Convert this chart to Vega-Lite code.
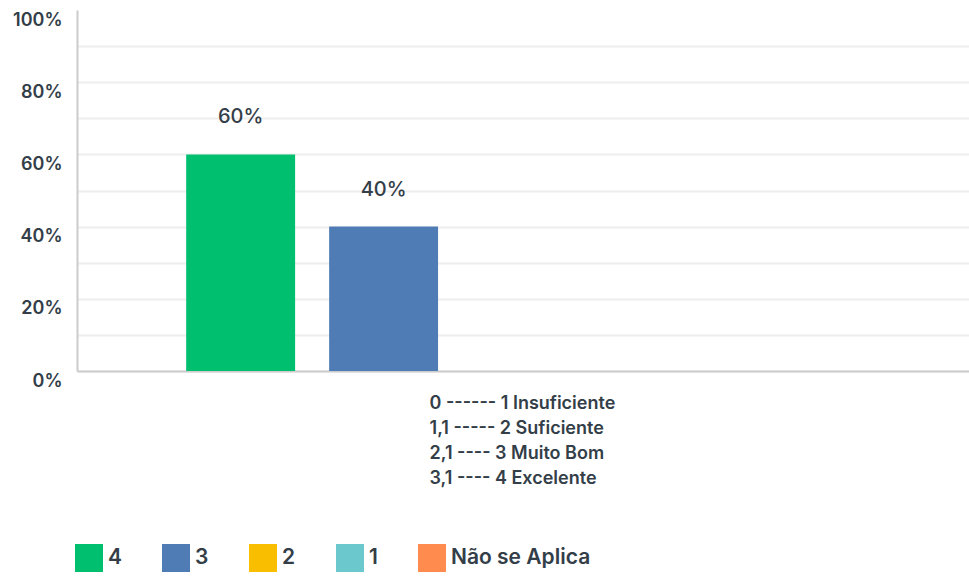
{
  "$schema": "https://vega.github.io/schema/vega-lite/v6.json",
  "autosize": "none",
  "width": 892,
  "height": 361,
  "padding": {"left": 77, "top": 10, "right": 0, "bottom": 206},
  "background": "white",
  "config": {"view": {"stroke": null}, "font": "Inter"},
  "data": {"values": [
    {"group": "0 ------ 1 Insuficiente|1,1 ----- 2 Suficiente|2,1 ---- 3 Muito Bom|3,1 ---- 4 Excelente", "serie": "4", "valor": 0.6},
    {"group": "0 ------ 1 Insuficiente|1,1 ----- 2 Suficiente|2,1 ---- 3 Muito Bom|3,1 ---- 4 Excelente", "serie": "3", "valor": 0.4},
    {"group": "0 ------ 1 Insuficiente|1,1 ----- 2 Suficiente|2,1 ---- 3 Muito Bom|3,1 ---- 4 Excelente", "serie": "2", "valor": 0},
    {"group": "0 ------ 1 Insuficiente|1,1 ----- 2 Suficiente|2,1 ---- 3 Muito Bom|3,1 ---- 4 Excelente", "serie": "1", "valor": 0},
    {"group": "0 ------ 1 Insuficiente|1,1 ----- 2 Suficiente|2,1 ---- 3 Muito Bom|3,1 ---- 4 Excelente", "serie": "Não se Aplica", "valor": 0}
  ]},
  "encoding": {
    "x": {
      "field": "group", "type": "nominal",
      "scale": {"paddingInner": 0, "paddingOuter": 0.124, "align": 0.52},
      "axis": {
        "title": null, "labelAngle": 0, "ticks": false,
        "domainColor": "#cccccc", "domainWidth": 2,
        "labelExpr": "split(datum.value, '|')",
        "labelAlign": "left", "labelOffset": -97, "labelBaseline": "top",
        "labelPadding": 23, "labelLineHeight": 25,
        "labelFontSize": 18, "labelFontWeight": 600, "labelColor": "#333e48",
        "labelLimit": 400
      }
    },
    "xOffset": {
      "field": "serie", "type": "nominal",
      "sort": ["4", "3", "2", "1", "Não se Aplica"],
      "scale": {"paddingInner": 0.238, "paddingOuter": 0.119}
    },
    "y": {
      "field": "valor", "type": "quantitative",
      "scale": {"domain": [0, 1], "nice": false},
      "axis": {
        "title": null, "values": [0, 0.1, 0.2, 0.3, 0.4, 0.5, 0.6, 0.7, 0.8, 0.9, 1],
        "labelExpr": "(round(datum.value * 100) % 20 == 0) ? format(datum.value, '.0%') : ''",
        "ticks": false, "domainColor": "#cccccc", "domainWidth": 2,
        "gridColor": {"condition": {"test": "datum.value == 1", "value": "white"}, "value": "#eeeeee"},
        "gridWidth": 2,
        "labelPadding": 15, "labelOffset": 10,
        "labelFontSize": 18, "labelFontWeight": 600, "labelColor": "#333e48"
      }
    }
  },
  "layer": [
    {
      "mark": {"type": "bar"},
      "encoding": {
        "color": {
          "field": "serie", "type": "nominal",
          "sort": ["4", "3", "2", "1", "Não se Aplica"],
          "scale": {"domain": ["4", "3", "2", "1", "Não se Aplica"], "range": ["#00bf6f", "#507cb6", "#f9be00", "#6bc8cd", "#ff8b4f"]},
          "legend": {
            "title": null, "orient": "none", "direction": "horizontal", "columns": 5,
            "legendX": -2, "legendY": 534,
            "symbolType": "square", "symbolSize": 784, "symbolStrokeWidth": 0, "symbolOpacity": 1,
            "labelFontSize": 21, "labelFontWeight": 600, "labelColor": "#333e48",
            "labelOffset": 5, "columnPadding": 40
          }
        }
      }
    },
    {
      "transform": [{"filter": "datum.valor > 0"}],
      "mark": {"type": "text", "dy": -37, "baseline": "middle", "fontSize": 20, "fontWeight": 500, "color": "#333e48"},
      "encoding": {"text": {"field": "valor", "type": "quantitative", "format": ".0%"}}
    }
  ]
}
